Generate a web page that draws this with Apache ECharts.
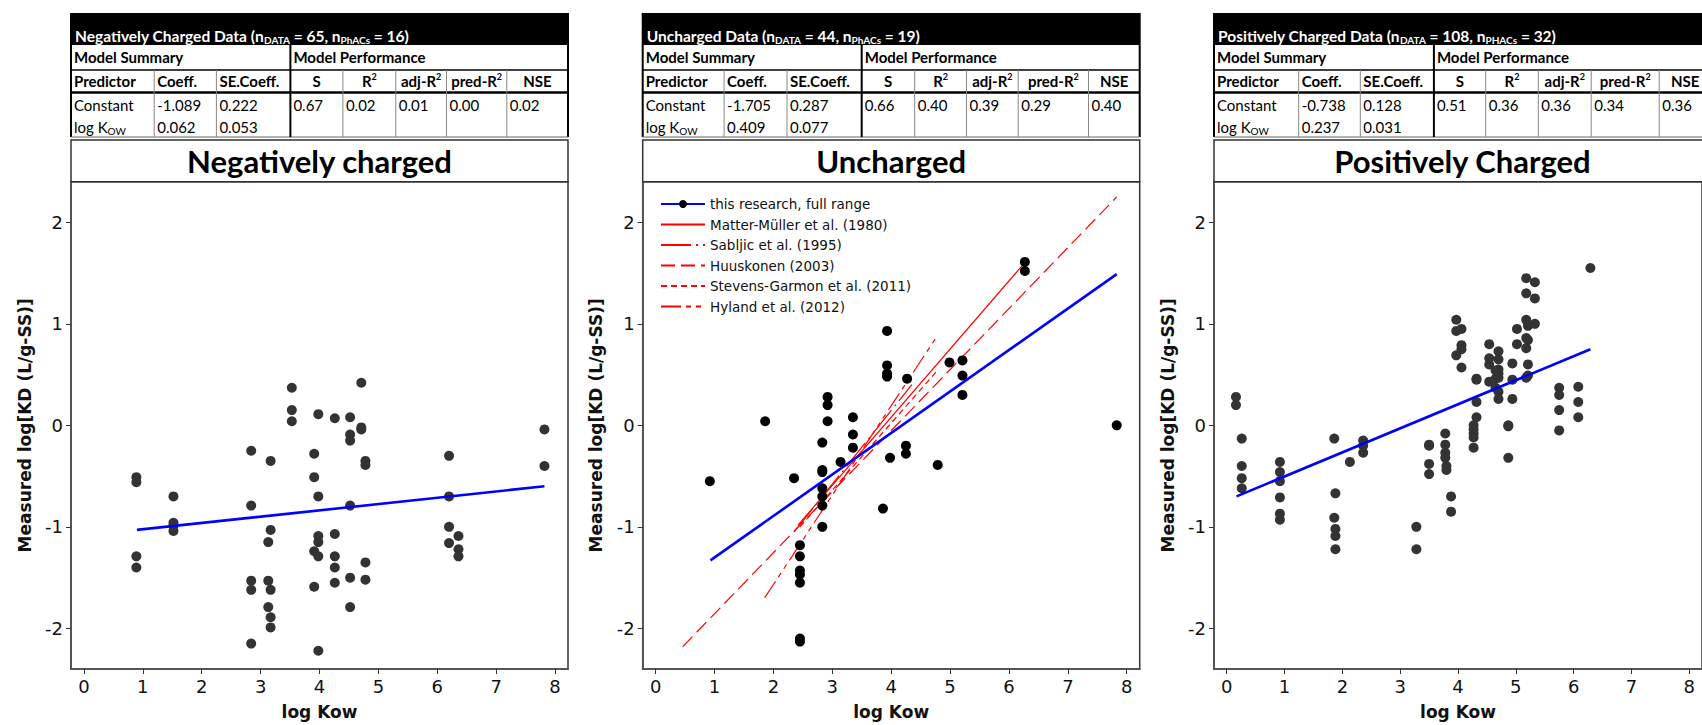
<!DOCTYPE html>
<html><head><meta charset="utf-8">
<script src="https://cdn.jsdelivr.net/npm/echarts@6/dist/echarts.min.js"></script>
<style>html,body{margin:0;padding:0;background:#fff;}#c{width:1702px;height:725px;}</style>
</head><body><div id="c"></div>
<script>
// ---------- data ----------
const xTickValues=[0,1,2,3,4,5,6,7,8];
const yTickValues=[-2,-1,0,1,2];
const panelTitles=['Negatively charged','Uncharged','Positively Charged'];
const headerNames=['Negatively Charged Data','Uncharged Data','Positively Charged Data'];
const phacsLabels=['PhACs','PhACs','PHACs'];
const nData=[65,44,108];
const nPhACs=[16,19,32];
const coeffConstant=['-1.089','-1.705','-0.738'];
const coeffLogKow=['0.062','0.409','0.237'];
const seConstant=['0.222','0.287','0.128'];
const seLogKow=['0.053','0.077','0.031'];
const perfS=['0.67','0.66','0.51'];
const perfR2=['0.02','0.40','0.36'];
const perfAdjR2=['0.01','0.39','0.36'];
const perfPredR2=['0.00','0.29','0.34'];
const perfNSE=['0.02','0.40','0.36'];

const negPoints=[[0.89,-0.51],[0.89,-0.56],[0.89,-1.29],[0.89,-1.40],
[1.52,-0.70],[1.52,-0.96],[1.52,-0.99],[1.52,-1.04],
[2.84,-0.25],[2.84,-0.79],[2.84,-1.53],[2.84,-1.62],[2.84,-2.15],
[3.17,-0.35],[3.17,-1.03],[3.13,-1.15],[3.13,-1.53],[3.17,-1.62],[3.13,-1.79],[3.17,-1.89],[3.17,-1.99],
[3.53,0.37],[3.53,0.15],[3.53,0.04],
[3.91,-0.28],[3.91,-0.51],[3.91,-1.24],[3.91,-1.59],
[3.98,0.11],[3.98,-0.70],[3.98,-1.09],[3.98,-1.15],[3.98,-1.29],[3.98,-2.22],
[4.26,0.07],[4.26,-1.07],[4.26,-1.29],[4.26,-1.40],[4.26,-1.55],
[4.52,0.08],[4.52,-0.09],[4.52,-0.15],[4.52,-0.79],[4.52,-1.50],[4.52,-1.79],
[4.71,0.42],[4.71,-0.02],[4.71,-0.04],
[4.78,-0.35],[4.78,-0.39],[4.78,-1.35],[4.78,-1.52],
[6.20,-0.30],[6.20,-0.70],[6.20,-1.00],[6.20,-1.16],
[6.36,-1.09],[6.36,-1.22],[6.36,-1.29],
[7.82,-0.04],[7.82,-0.40]];

const unchPoints=[[0.92,-0.55],[1.86,0.04],[2.35,-0.52],
[2.45,-1.18],[2.45,-1.29],[2.45,-1.43],[2.45,-1.47],[2.45,-1.55],[2.45,-2.10],[2.45,-2.13],
[2.83,-0.17],[2.83,-0.44],[2.83,-0.46],[2.83,-0.62],[2.83,-0.70],[2.83,-0.79],[2.83,-1.00],
[2.92,0.28],[2.92,0.20],[2.92,0.04],
[3.14,-0.36],
[3.35,0.08],[3.35,-0.09],[3.35,-0.22],
[3.86,-0.82],
[3.93,0.93],[3.93,0.59],[3.93,0.51],[3.93,0.48],
[3.98,-0.32],
[4.27,0.46],[4.25,-0.20],[4.25,-0.28],
[4.79,-0.39],[4.99,0.62],
[5.21,0.64],[5.21,0.49],[5.21,0.30],
[6.27,1.61],[6.27,1.52],
[7.83,0.00]];

const posPoints=[[0.16,0.28],[0.16,0.20],[0.26,-0.13],[0.26,-0.40],[0.26,-0.52],[0.26,-0.62],
[0.92,-0.36],[0.92,-0.46],[0.92,-0.55],[0.92,-0.71],[0.92,-0.87],[0.92,-0.93],
[1.86,-0.13],[1.88,-0.67],[1.86,-0.91],[1.88,-1.02],[1.88,-1.09],[1.88,-1.22],
[2.13,-0.36],[2.36,-0.15],[2.36,-0.20],[2.36,-0.27],
[3.28,-1.00],[3.28,-1.22],
[3.50,-0.19],[3.50,-0.20],[3.50,-0.38],[3.50,-0.48],
[3.78,-0.08],[3.78,-0.19],[3.78,-0.27],[3.78,-0.32],[3.80,-0.40],[3.80,-0.44],
[3.88,-0.70],[3.88,-0.85],
[3.97,1.04],[3.97,0.93],[4.06,0.95],[3.97,0.69],[4.06,0.79],[4.06,0.75],[4.06,0.57],
[4.32,0.46],[4.32,0.45],[4.32,0.23],[4.32,0.08],
[4.27,0.00],[4.27,-0.04],[4.27,-0.08],[4.27,-0.12],[4.27,-0.22],
[4.54,0.80],[4.54,0.66],[4.54,0.60],[4.54,0.43],
[4.70,0.73],[4.70,0.65],[4.70,0.55],[4.70,0.51],[4.70,0.47],
[4.65,0.54],[4.65,0.37],[4.70,0.33],[4.70,0.26],[4.65,0.46],
[4.87,0.00],[4.87,-0.01],[4.87,-0.32],
[4.94,0.61],[4.94,0.45],[4.94,0.26],
[5.02,0.95],[5.02,0.80],
[5.18,1.45],[5.18,1.30],[5.18,1.04],[5.18,0.86],[5.18,0.76],[5.18,0.47],
[5.21,0.98],[5.21,0.84],[5.21,0.60],[5.21,0.49],
[5.33,1.41],[5.33,1.25],[5.33,1.00],
[5.75,0.37],[5.75,0.30],[5.75,0.15],[5.75,-0.05],
[6.08,0.38],[6.08,0.23],[6.08,0.08],
[6.29,1.55]];

const negFit=[[0.90,-1.03],[7.82,-0.60]];
const unchFit=[[0.93,-1.33],[7.83,1.49]];
const posFit=[[0.17,-0.70],[6.29,0.75]];

const fitName='this research, full range';
const litNames=['Matter-Müller et al. (1980)','Sabljic et al. (1995)','Huuskonen (2003)','Stevens-Garmon et al. (2011)','Hyland et al. (2012)'];
const litLines=[
  [[2.42,-0.98],[6.22,1.57]],
  [[2.35,-1.05],[4.35,0.40]],
  [[0.46,-2.18],[7.83,2.25]],
  [[2.45,-1.00],[4.80,0.55]],
  [[1.85,-1.70],[4.78,0.88]]
];
const litDash=['solid',[30,5,2,5],[14,6],[6,4],[20,5,5,5,5,5]];

// ---------- layout ----------
const panelLeft=[71,642.7,1214];
const panelWidth=497;
const plotTop=181.7, plotHeight=488.3;
const colEdges=[
  [0,83.2,145.4,219.4,271.9,324.8,375.5,435.8,497],
  [0,81.4,144.3,219,272,323.8,375.5,445.8,497],
  [0,84.7,146.3,219.9,271.7,324.3,377.2,445.2,497]
];
const TF='Lato, "Open Sans", sans-serif';
const AF='"DejaVu Sans", sans-serif';

const graphics=[];
function line(x1,y1,x2,y2,color,w){graphics.push({type:'line',shape:{x1,y1,x2,y2},style:{stroke:color,lineWidth:w},silent:true,z:10});}
const richBase={
  m:{fontFamily:TF,fontSize:15,fontWeight:'normal',fill:'#000',lineHeight:18,verticalAlign:'middle'},
  b:{fontFamily:TF,fontSize:15,fontWeight:'bold',fill:'#000',lineHeight:18,verticalAlign:'middle'},
  bsup:{fontFamily:TF,fontSize:9,fontWeight:'bold',fill:'#000',lineHeight:10,verticalAlign:'top'},
  sub:{fontFamily:TF,fontSize:10,fontWeight:'normal',fill:'#000',lineHeight:11,verticalAlign:'bottom'},
  w:{fontFamily:TF,fontSize:15.5,fontWeight:'bold',fill:'#fff',lineHeight:18,verticalAlign:'middle'},
  wsub:{fontFamily:TF,fontSize:10,fontWeight:'bold',fill:'#fff',lineHeight:11,verticalAlign:'bottom'}
};
function text(x,y,t,align){graphics.push({type:'text',x,y,silent:true,z:11,style:{text:t,rich:richBase,align:align||'left',verticalAlign:'middle',fontFamily:TF,fontSize:15}});}

for(let i=0;i<3;i++){
  const X=panelLeft[i], W=panelWidth, C=colEdges[i];
  graphics.push({type:'rect',shape:{x:X,y:13,width:W,height:32},style:{fill:'#000'},silent:true,z:9});
  text(X+4,35.5,`{w|${headerNames[i]} (n}{wsub|DATA}{w| = ${nData[i]}, n}{wsub|${phacsLabels[i]}}{w| = ${nPhACs[i]})}`);
  line(X,13,X,137,'#000',2);
  line(X+W,13,X+W,137,'#000',2);
  line(X,70,X+W,70,'#000',1.5);
  line(X,92.5,X+W,92.5,'#000',2.5);
  line(X,137,X+W,137,'#666',1);
  line(X+C[3],45,X+C[3],137,'#000',2);
  [1,2,4,5,6,7].forEach(k=>line(X+C[k],70,X+C[k],137,'#888',1));
  text(X+3,57,'{b|Model Summary}');
  text(X+C[3]+3,57,'{b|Model Performance}');
  text(X+C[0]+3,81,'{b|Predictor}');
  text(X+C[1]+3,81,'{b|Coeff.}');
  text(X+C[2]+3,81,'{b|SE.Coeff.}');
  text(X+(C[3]+C[4])/2,81,'{b|S}','center');
  text(X+(C[4]+C[5])/2,81,'{b|R}{bsup|2}','center');
  text(X+(C[5]+C[6])/2,81,'{b|adj-R}{bsup|2}','center');
  text(X+(C[6]+C[7])/2,81,'{b|pred-R}{bsup|2}','center');
  text(X+(C[7]+C[8])/2,81,'{b|NSE}','center');
  text(X+C[0]+3,104.5,'{m|Constant}');
  text(X+C[1]+3,104.5,`{m|${coeffConstant[i]}}`);
  text(X+C[2]+3,104.5,`{m|${seConstant[i]}}`);
  text(X+C[3]+3,104.5,`{m|${perfS[i]}}`);
  text(X+C[4]+3,104.5,`{m|${perfR2[i]}}`);
  text(X+C[5]+3,104.5,`{m|${perfAdjR2[i]}}`);
  text(X+C[6]+3,104.5,`{m|${perfPredR2[i]}}`);
  text(X+C[7]+3,104.5,`{m|${perfNSE[i]}}`);
  text(X+C[0]+3,127,'{m|log K}{sub|OW}');
  text(X+C[1]+3,127,`{m|${coeffLogKow[i]}}`);
  text(X+C[2]+3,127,`{m|${seLogKow[i]}}`);
  graphics.push({type:'rect',shape:{x:X,y:140,width:W,height:plotTop-140},style:{fill:'none',stroke:'#333',lineWidth:1.5},silent:true,z:10});
  graphics.push({type:'text',x:X+W/2,y:161,silent:true,z:11,style:{text:panelTitles[i],fontFamily:TF,fontWeight:'bold',fontSize:31,fill:'#000',align:'center',verticalAlign:'middle'}});
}

const grids=[],xAxes=[],yAxes=[],series=[];
for(let i=0;i<3;i++){
  grids.push({left:panelLeft[i],top:plotTop,width:panelWidth,height:plotHeight,show:true,borderColor:'#333',borderWidth:1.5,backgroundColor:'#fff'});
  xAxes.push({type:'value',gridIndex:i,min:-0.22,max:8.22,
    axisLine:{show:true,onZero:false,lineStyle:{color:'#555',width:2}},
    axisTick:{show:true,customValues:xTickValues,length:5,lineStyle:{color:'#333',width:1}},
    axisLabel:{customValues:xTickValues,fontFamily:AF,fontSize:18,color:'#111',margin:8},
    splitLine:{show:false},
    name:'log Kow',nameLocation:'middle',nameGap:34,
    nameTextStyle:{fontFamily:AF,fontWeight:'bold',fontSize:17,color:'#111'}});
  yAxes.push({type:'value',gridIndex:i,min:-2.4,max:2.4,
    axisLine:{show:true,onZero:false,lineStyle:{color:'#555',width:2}},
    axisTick:{show:true,customValues:yTickValues,length:5,lineStyle:{color:'#333',width:1}},
    axisLabel:{customValues:yTickValues,fontFamily:AF,fontSize:18,color:'#111',margin:8},
    splitLine:{show:false},
    name:'Measured log[KD (L/g-SS)]',nameLocation:'middle',nameGap:38,
    nameTextStyle:{fontFamily:AF,fontWeight:'bold',fontSize:17,color:'#111'}});
}
const pointSets=[negPoints,unchPoints,posPoints];
const fits=[negFit,unchFit,posFit];
const dotColors=['#333','#000','#333'];
for(let i=0;i<3;i++){
  series.push({type:'scatter',name:'data'+i,xAxisIndex:i,yAxisIndex:i,data:pointSets[i],symbolSize:10,itemStyle:{color:dotColors[i],opacity:1},z:3,silent:true});
}
for(let k=0;k<litNames.length;k++){
  series.push({type:'line',name:litNames[k],xAxisIndex:1,yAxisIndex:1,data:litLines[k],symbol:'none',
    itemStyle:{color:'rgba(0,0,0,0)',borderWidth:0,borderColor:'rgba(0,0,0,0)'},
    lineStyle:{color:'#ff0000',width:1.2,type:litDash[k]},z:2,silent:true});
}
for(let i=0;i<3;i++){
  series.push({type:'line',name:i===1?fitName:'fit'+i,xAxisIndex:i,yAxisIndex:i,data:fits[i],
    symbol:'circle',symbolSize:9,showSymbol:false,itemStyle:{color:'#000'},
    lineStyle:{color:'#0000ff',width:2.6},z:4,silent:true});
}

const chart=echarts.init(document.getElementById('c'),null,{renderer:'svg',width:1702,height:725});
chart.setOption({
  animation:false,
  backgroundColor:'#fff',
  grid:grids,xAxis:xAxes,yAxis:yAxes,series,
  legend:{data:[fitName,...litNames],orient:'vertical',left:655,top:192,itemWidth:44,itemHeight:10,itemGap:6.5,
    textStyle:{fontFamily:AF,fontSize:13.5,color:'#111'},selectedMode:false},
  graphic:graphics
});
</script>
</body></html>
